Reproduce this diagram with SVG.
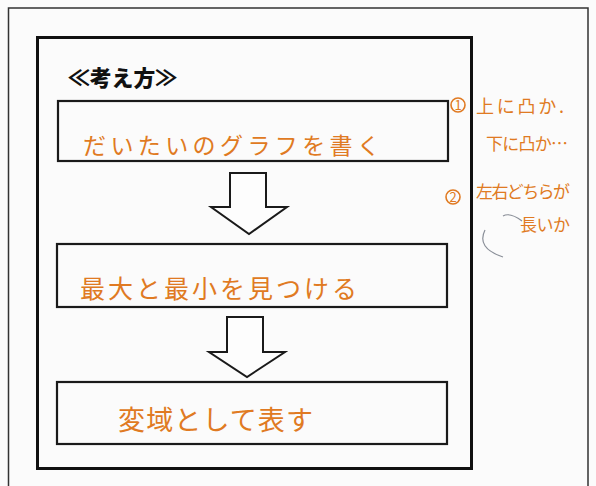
<svg xmlns="http://www.w3.org/2000/svg" width="596" height="486" viewBox="0 0 596 486">
<style>
.hand{font-family:"Noto Sans CJK JP","Noto Sans CJK SC",sans-serif;fill:#e07a22;}
.box{fill:none;stroke:#1a1a1a;stroke-width:2.2;}
.arrow{fill:#fdfdfd;stroke:#1a1a1a;stroke-width:2;stroke-linejoin:miter;}
.pencil{fill:none;stroke:#8a8f98;stroke-width:1.2;}
.num{fill:none;stroke:#e07a22;stroke-width:1.6;}
</style>
<rect x="0" y="0" width="596" height="486" fill="#fbfbfb"/>
<g id="frame">
<path d="M8.5 486 V8 H588 V486" fill="none" stroke="#333" stroke-width="1.5"/>
<rect x="37.5" y="37.5" width="434" height="431" fill="none" stroke="#111" stroke-width="3"/>
</g>
<g id="title">
<text x="68" y="86" font-family="'Noto Sans CJK JP','Noto Sans CJK SC',sans-serif" font-weight="900" font-size="22" fill="#111" textLength="109" lengthAdjust="spacingAndGlyphs">≪考え方≫</text>
</g>
<g id="step1">
<rect class="box" x="58" y="101" width="390" height="60"/>
<text class="hand" x="83" y="154" font-size="23" textLength="297" lengthAdjust="spacing">だいたいのグラフを書く</text>
</g>
<g id="step2">
<rect class="box" x="57" y="244" width="390" height="63"/>
<text class="hand" x="80" y="298" font-size="25" textLength="277" lengthAdjust="spacing">最大と最小を見つける</text>
</g>
<g id="step3">
<rect class="box" x="57" y="382" width="390" height="62"/>
<text class="hand" x="118" y="430" font-size="27" textLength="195" lengthAdjust="spacing">変域として表す</text>
</g>
<g id="connectors">
<path class="arrow" d="M230 173 H266 V207 H287 L249 234 L211 207 H230 Z"/>
<path class="arrow" d="M227 317 H263 V352 H285 L247 377 L209 352 H227 Z"/>
</g>
<g id="notes">
<circle class="num" cx="458" cy="105" r="7"/>
<text class="hand" x="458" y="110" font-size="13" text-anchor="middle">1</text>
<text class="hand" x="476" y="113" font-size="18" textLength="88" lengthAdjust="spacing">上に凸か.</text>
<text class="hand" x="486" y="150" font-size="17" textLength="82" lengthAdjust="spacing">下に凸か…</text>
<circle class="num" cx="453" cy="197" r="7"/>
<text class="hand" x="453" y="202" font-size="13" text-anchor="middle">2</text>
<text class="hand" x="476" y="198" font-size="17" textLength="94" lengthAdjust="spacing">左右どちらが</text>
<text class="hand" x="520" y="231" font-size="17" textLength="50" lengthAdjust="spacing">長いか</text>
<path class="pencil" d="M503 216 Q510 212 522 221"/>
<path class="pencil" d="M485 230 Q476 248 503 257"/>
</g>
</svg>
